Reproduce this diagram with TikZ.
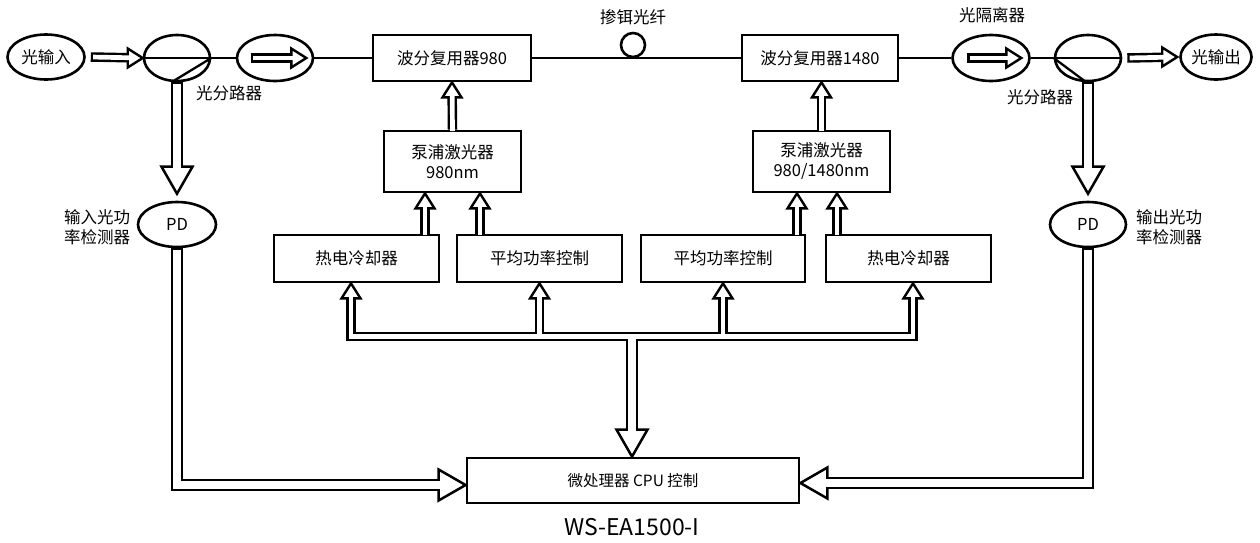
\documentclass[tikz,border=0pt]{standalone}
\usepackage{fontspec}
\setmainfont{Noto Sans CJK SC}
\usetikzlibrary{shapes.geometric,calc}
\tikzset{
  headS/.pic={\draw[line width=2.4pt, fill=white, line join=miter] (0,0) -- (-15,9.5) -- (-15,-9.5) -- cycle;},
  headB/.pic={\draw[line width=2.5pt, fill=white, line join=miter] (0,0) -- (-27,15.5) -- (-27,-15.5) -- cycle;},
  shaftSb/.style={line width=9.5pt, black, line cap=butt, line join=miter, shorten >=15pt},
  shaftSw/.style={line width=4.7pt, white, line cap=butt, line join=miter, shorten >=13.3pt},
  shaftBb/.style={line width=12.5pt, black, line cap=butt, line join=miter, shorten >=27pt},
  shaftBw/.style={line width=7.5pt, white, line cap=butt, line join=miter, shorten >=25.3pt},
  ell/.style={ellipse, draw, line width=2.6pt, fill=white, inner sep=0pt},
  box/.style={rectangle, draw, line width=2.8pt, fill=white, inner sep=0pt, align=center},
  optline/.style={line width=2.3pt},
}
\newcommand\harrow[5]{%
  \pic[rotate=#2] at #4 {head#1};
  \draw[shaft#1b] #3 #4;
  \draw[shaft#1w, shorten <=#5] #3 #4;}
\begin{document}
\begin{tikzpicture}[x=1pt,y=-1pt,
  every node/.style={font=\fontsize{16.5}{20}\selectfont, inner sep=0pt}]
\useasboundingbox (0,0) rectangle (1260,542);
% top row
\node[ell, minimum width=77pt, minimum height=45pt] (in) at (46,57) {光输入};
\node[ell, minimum width=66pt, minimum height=46pt] (sp1) at (177,58) {};
\node[ell, minimum width=76pt, minimum height=46pt] (iso1) at (275,58) {};
\node[box, minimum width=158pt, minimum height=46pt] (wdm1) at (452,58) {波分复用器980};
\node[circle, draw, line width=2.6pt, minimum size=24pt, inner sep=0pt] (edf) at (633,45) {};
\node[box, minimum width=156pt, minimum height=46pt] (wdm2) at (820,58) {波分复用器1480};
\node[ell, minimum width=77pt, minimum height=46pt] (iso2) at (991,58) {};
\node[ell, minimum width=66pt, minimum height=46pt] (sp2) at (1088,58) {};
\node[ell, minimum width=71pt, minimum height=45pt] (out) at (1216,57) {光输出};
% labels
\node (lsp1) at (229,93) {光分路器};
\node (lsp2) at (1040,97) {光分路器};
\node (ledf) at (633,17) {掺铒光纤};
\node (liso) at (992,15) {光隔离器};
% detectors
\node[ell, minimum width=78pt, minimum height=45pt] (pd1) at (177,224.5) {PD};
\node[ell, minimum width=76pt, minimum height=45pt] (pd2) at (1088,224.5) {PD};
\node[align=center] (lpd1) at (97,227) {输入光功\\率检测器};
\node[align=center] (lpd2) at (1169,227) {输出光功\\率检测器};
% pumps
\node[box, minimum width=137pt, minimum height=61pt] (pump1) at (452.5,161.5) {泵浦激光器\\980nm};
\node[box, minimum width=137pt, minimum height=61pt] (pump2) at (821.5,161.5) {泵浦激光器\\980/1480nm};
% controllers
\node[box, minimum width=165pt, minimum height=47pt] (tec1) at (356.5,258.5) {热电冷却器};
\node[box, minimum width=165pt, minimum height=47pt] (apc1) at (539.5,258.5) {平均功率控制};
\node[box, minimum width=164pt, minimum height=47pt] (apc2) at (723,258.5) {平均功率控制};
\node[box, minimum width=165pt, minimum height=47pt] (tec2) at (908.5,258.5) {热电冷却器};
% cpu
\node[box, minimum width=332pt, minimum height=45pt, font=\fontsize{15.5}{18}\selectfont] (cpu) at (633,480.5) {微处理器 CPU 控制};
\node[font=\fontsize{23}{26}\selectfont] (title) at (632,527) {WS-EA1500-I};
% optical line
\draw[optline] (sp1.west) -- (iso1.west);
\draw[optline] (iso1.east) -- (wdm1.west);
\draw[optline] (wdm1.east) -- (wdm2.west);
\draw[optline] (wdm2.east) -- (iso2.west);
\draw[optline] (iso2.east) -- (sp2.east);
\draw[optline] (sp1.east) -- ($(sp1.south)+(-4,-1)$);
\draw[optline] (sp2.west) -- ($(sp2.south)+(-3,-1)$);
% main-line hollow arrows
\harrow{S}{0}{($(in.east)+(5,0)$) --}{(sp1.west)}{2.4pt}
\harrow{S}{0}{($(iso1.west)+(15,0)$) --}{($(iso1.east)+(-8,0)$)}{2.4pt}
\harrow{S}{0}{($(iso2.west)+(16,0)$) --}{($(iso2.east)+(-9.5,0)$)}{2.4pt}
\harrow{S}{0}{($(sp2.east)+(5,0)$) --}{($(out.west)+(-2,0)$)}{2.4pt}
% splitter to detectors
\harrow{B}{-90}{(sp1.south) --}{($(pd1.north)+(0,-7)$)}{1.3pt}
\harrow{B}{-90}{(sp2.south) --}{($(pd2.north)+(0,-7)$)}{1.3pt}
% detectors to cpu
\harrow{B}{0}{(pd1.south) |-}{($(cpu.west)+(0,4.5)$)}{1.3pt}
\harrow{B}{180}{(pd2.south) |-}{($(cpu.east)+(0,2.5)$)}{1.3pt}
% pumps to wdm
\coordinate (w2t) at (pump2.north |- wdm2.south);
\harrow{S}{90}{(pump1.north) --}{(wdm1.south)}{-1.5pt}
\harrow{S}{90}{(pump2.north) --}{(w2t)}{-1.5pt}
% controllers to pumps
\coordinate (p1a) at ($(pump1.south)+(-27.5,0)$);
\coordinate (p1b) at ($(pump1.south)+(27.5,0)$);
\coordinate (p2a) at ($(pump2.south)+(-24.5,0)$);
\coordinate (p2b) at ($(pump2.south)+(15.5,0)$);
\harrow{S}{90}{(p1a |- tec1.north) --}{(p1a)}{-1.5pt}
\harrow{S}{90}{(p1b |- apc1.north) --}{(p1b)}{-1.5pt}
\harrow{S}{90}{(p2a |- apc2.north) --}{(p2a)}{-1.5pt}
\harrow{S}{90}{(p2b |- tec2.north) --}{(p2b)}{-1.5pt}
% bus comb from cpu to controllers
\coordinate (bus) at (0,336.5);
\coordinate (t1) at ($(tec1.south)+(-5.5,0)$);
\coordinate (t2) at (apc1.south);
\coordinate (t3) at (apc2.south);
\coordinate (t4) at ($(tec2.south)+(4.5,0)$);
\coordinate (tc) at ($(cpu.north)+(-1,0)$);
\foreach \t in {t1,t2,t3,t4} {\pic[rotate=90] at (\t) {headS};}
\pic[rotate=-90] at (tc) {headB};
\draw[line width=9.5pt, line join=miter] ($(t1)+(0,15)$) -- (t1 |- bus) -- (t4 |- bus) -- ($(t4)+(0,15)$);
\draw[line width=9.5pt] ($(t2)+(0,15)$) -- (t2 |- bus);
\draw[line width=9.5pt] ($(t3)+(0,15)$) -- (t3 |- bus);
\draw[line width=12.5pt] (tc |- bus) -- ($(tc)+(0,-27)$);
\draw[line width=4.7pt, white, line join=miter] ($(t1)+(0,13.3)$) -- (t1 |- bus) -- (t4 |- bus) -- ($(t4)+(0,13.3)$);
\draw[line width=4.7pt, white] ($(t2)+(0,13.3)$) -- (t2 |- bus);
\draw[line width=4.7pt, white] ($(t3)+(0,13.3)$) -- (t3 |- bus);
\draw[line width=7.5pt, white] (tc |- bus) -- ($(tc)+(0,-25.3)$);
\end{tikzpicture}
\end{document}
